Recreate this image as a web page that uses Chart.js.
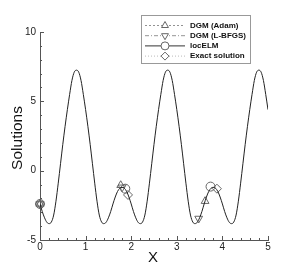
<!DOCTYPE html>
<html>
<head>
<meta charset="utf-8">
<script src="https://cdn.jsdelivr.net/npm/chart.js@4"></script>
<style>
  body { margin: 0; background: #fff; }
  canvas { display: block; }
</style>
</head>
<body>
<canvas id="solChart" width="305" height="271"></canvas>
<script>
try {

  // sample positions along x
  const xs = [
    0.00, 0.05, 0.10, 0.15, 0.20, 0.25, 0.30, 0.35, 0.40, 0.45,
    0.50, 0.55, 0.60, 0.65, 0.70, 0.75, 0.80, 0.85, 0.90, 0.95,
    1.00, 1.05, 1.10, 1.15, 1.20, 1.25, 1.30, 1.35, 1.40, 1.45,
    1.50, 1.55, 1.60, 1.65, 1.70, 1.75, 1.80, 1.85, 1.90, 1.95,
    2.00, 2.05, 2.10, 2.15, 2.20, 2.25, 2.30, 2.35, 2.40, 2.45,
    2.50, 2.55, 2.60, 2.65, 2.70, 2.75, 2.80, 2.85, 2.90, 2.95,
    3.00, 3.05, 3.10, 3.15, 3.20, 3.25, 3.30, 3.35, 3.40, 3.45,
    3.50, 3.55, 3.60, 3.65, 3.70, 3.75, 3.80, 3.85, 3.90, 3.95,
    4.00, 4.05, 4.10, 4.15, 4.20, 4.25, 4.30, 4.35, 4.40, 4.45,
    4.50, 4.55, 4.60, 4.65, 4.70, 4.75, 4.80, 4.85, 4.90, 4.95,
    5.00
  ];

  // solution curve (all methods overlap it)
  const solution = [
    -2.4, -2.95, -3.4, -3.72, -3.82, -3.7, -3.2, -2.2, -0.9, 0.5,
    1.9, 3.2, 4.4, 5.5, 6.5, 7.1, 7.25, 7.1, 6.5, 5.5,
    4.4, 3.2, 1.9, 0.5, -0.9, -2.2, -3.2, -3.7, -3.82, -3.72,
    -3.4, -2.95, -2.4, -1.9, -1.5, -1.27, -1.2, -1.27, -1.5, -1.9,
    -2.4, -2.95, -3.4, -3.72, -3.82, -3.7, -3.2, -2.2, -0.9, 0.5,
    1.9, 3.2, 4.4, 5.5, 6.5, 7.1, 7.25, 7.1, 6.5, 5.5,
    4.4, 3.2, 1.9, 0.5, -0.9, -2.2, -3.2, -3.7, -3.82, -3.72,
    -3.4, -2.95, -2.4, -1.9, -1.5, -1.27, -1.2, -1.27, -1.5, -1.9,
    -2.4, -2.95, -3.4, -3.72, -3.82, -3.7, -3.2, -2.2, -0.9, 0.5,
    1.9, 3.2, 4.4, 5.5, 6.5, 7.1, 7.25, 7.1, 6.5, 5.5,
    4.4
  ];

  // marker points of each method
  const adamX = [0, 1.77, 3.62];
  const adamY = [-2.4, -1.05, -2.2];
  const lbfgsX = [0, 1.8, 3.48];
  const lbfgsY = [-2.4, -1.2, -3.45];
  const elmX = [0, 1.87, 3.74];
  const elmY = [-2.4, -1.3, -1.15];
  const exactX = [0, 1.93, 3.88];
  const exactY = [-2.4, -1.75, -1.3];

  const seriesNames = ['DGM (Adam)', 'DGM (L-BFGS)', 'locELM', 'Exact solution'];

  const xTicks = [0, 1, 2, 3, 4, 5];
  const yTicks = [-5, 0, 5, 10];

  const toPts = (a, b) => a.map((v, i) => ({ x: v, y: b[i] }));

  const markerStyle = {
    showLine: false,
    clip: false,
    pointRadius: 4.5,
    borderColor: '#666',
    backgroundColor: 'rgba(255,255,255,0)',
    pointBorderWidth: 1
  };

  // legend line styles
  const legendItems = [
    { dash: [2, 2], color: '#777', width: 0.8, style: 'triangle', rot: 0 },
    { dash: [4, 2, 1, 2], color: '#777', width: 0.8, style: 'triangle', rot: 180 },
    { dash: [], color: '#333', width: 1, style: 'circle', rot: 0 },
    { dash: [1, 2], color: '#aaa', width: 0.8, style: 'rectRot', rot: 0 }
  ];

  const inwardTicks = {
    id: 'inwardTicks',
    afterDatasetsDraw(chart) {
      const ctx = chart.ctx;
      const xs_ = chart.scales.x, ys_ = chart.scales.y;
      const area = chart.chartArea;
      ctx.save();
      ctx.strokeStyle = '#555';
      ctx.lineWidth = 1;
      for (let i = 0; i <= 25; i++) {
        const px = Math.round(xs_.getPixelForValue(i * 0.2)) + 0.5;
        const len = i % 5 === 0 ? 4 : 2;
        ctx.beginPath();
        ctx.moveTo(px, area.bottom);
        ctx.lineTo(px, area.bottom - len);
        ctx.stroke();
      }
      for (let v = -5; v <= 10; v++) {
        const py = Math.round(ys_.getPixelForValue(v)) + 0.5;
        const len = v % 5 === 0 ? 4 : 2;
        ctx.beginPath();
        ctx.moveTo(area.left, py);
        ctx.lineTo(area.left + len, py);
        ctx.stroke();
      }

      // axis titles
      ctx.fillStyle = '#111';
      ctx.font = '15px "Liberation Sans", Arial, sans-serif';
      ctx.textAlign = 'center';
      ctx.textBaseline = 'middle';
      ctx.fillText('X', 153, 258);
      ctx.save();
      ctx.translate(18, 138);
      ctx.rotate(-Math.PI / 2);
      ctx.font = '15.5px "Liberation Sans", Arial, sans-serif';
      ctx.fillText('Solutions', 0, 0);
      ctx.restore();

      // legend box
      const bx = 141.5, by = 15.5, bw = 109, bh = 48;
      ctx.fillStyle = '#fff';
      ctx.fillRect(bx, by, bw, bh);
      ctx.strokeStyle = '#999';
      ctx.strokeRect(bx, by, bw, bh);
      legendItems.forEach((it, i) => {
        const y = 25.5 + i * 10.2;
        ctx.save();
        ctx.strokeStyle = it.color;
        ctx.lineWidth = it.width;
        ctx.setLineDash(it.dash);
        ctx.beginPath();
        ctx.moveTo(145, y);
        ctx.lineTo(185, y);
        ctx.stroke();
        ctx.setLineDash([]);
        ctx.fillStyle = '#fff';
        ctx.strokeStyle = '#666';
        ctx.lineWidth = 1;
        Chart.helpers.drawPoint(ctx, {
          pointStyle: it.style,
          rotation: it.rot,
          radius: 4,
          borderWidth: 1
        }, 165, y);
        ctx.restore();
        ctx.fillStyle = '#111';
        ctx.font = 'bold 8px "Liberation Sans", Arial, sans-serif';
        ctx.textAlign = 'left';
        ctx.fillText(seriesNames[i], 190, y);
      });
      ctx.restore();
    }
  };

  const ctx = document.getElementById('solChart').getContext('2d');
  new Chart(ctx, {
    type: 'scatter',
    data: {
      datasets: [
        {
          label: 'curve',
          data: toPts(xs, solution),
          showLine: true,
          borderColor: '#222',
          borderWidth: 1,
          pointRadius: 0,
          cubicInterpolationMode: 'monotone'
        },
        Object.assign({ label: seriesNames[0], data: toPts(adamX, adamY), pointStyle: 'triangle' }, markerStyle),
        Object.assign({ label: seriesNames[1], data: toPts(lbfgsX, lbfgsY), pointStyle: 'triangle', pointRotation: 180 }, markerStyle),
        Object.assign({ label: seriesNames[2], data: toPts(elmX, elmY), pointStyle: 'circle' }, markerStyle),
        Object.assign({ label: seriesNames[3], data: toPts(exactX, exactY), pointStyle: 'rectRot' }, markerStyle)
      ]
    },
    options: {
      responsive: false,
      animation: false,
      layout: { padding: { top: 32, right: 37, left: 0, bottom: 0 } },
      plugins: { legend: { display: false }, tooltip: { enabled: false } },
      scales: {
        x: {
          type: 'linear',
          min: 0, max: 5,
          afterBuildTicks: s => { s.ticks = xTicks.map(v => ({ value: v })); },
          afterFit: s => { s.height = 31; },
          grid: { display: false, drawTicks: false },
          border: { display: true, color: '#555', width: 1 },
          ticks: { font: { size: 10, family: '"Liberation Sans", Arial' }, color: '#222', padding: 1, maxRotation: 0 }
        },
        y: {
          min: -5, max: 10,
          afterBuildTicks: s => { s.ticks = yTicks.map(v => ({ value: v })); },
          afterFit: s => { s.width = 40; },
          grid: { display: false, drawTicks: false },
          border: { display: true, color: '#555', width: 1 },
          ticks: { font: { size: 10, family: '"Liberation Sans", Arial' }, color: '#222', padding: 4 }
        }
      }
    },
    plugins: [inwardTicks]
  });

} catch (e) {
  console.log(e);
}
</script>
</body>
</html>
